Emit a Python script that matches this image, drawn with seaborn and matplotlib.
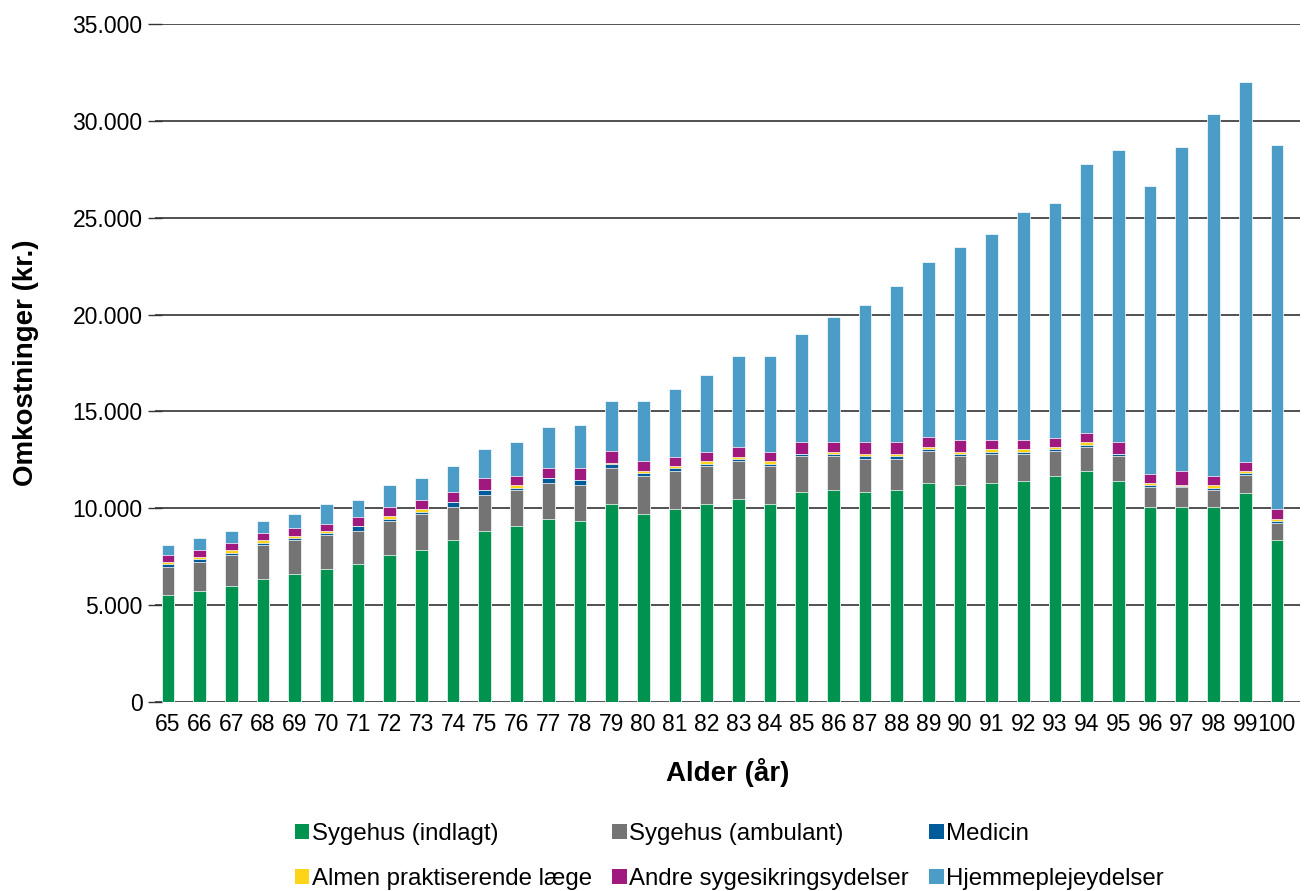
import matplotlib
matplotlib.use("Agg")
import matplotlib.pyplot as plt
from matplotlib.ticker import FuncFormatter, MultipleLocator
from matplotlib.patches import Patch
import numpy as np
import pandas as pd
import seaborn as sns

# Ages 65..100
ages = [str(a) for a in range(65, 101)]

sygehus_indlagt = [5500, 5750, 5970, 6370, 6610, 6850, 7110, 7600, 7830, 8350,
                   8840, 9090, 9460, 9330, 10200, 9710, 9950, 10200, 10460, 10200,
                   10830, 10940, 10830, 10940, 11320, 11190, 11320, 11420, 11680, 11940,
                   11420, 10070, 10070, 10070, 10800, 8340]
sygehus_ambulant = [1480, 1490, 1630, 1730, 1740, 1760, 1730, 1740, 1880, 1730,
                    1860, 1850, 1860, 1870, 1860, 1970, 1990, 1980, 1980, 1980,
                    1850, 1740, 1730, 1620, 1620, 1490, 1480, 1370, 1260, 1240,
                    1260, 1050, 1010, 880, 920, 900]
medicin = [140, 130, 110, 120, 120, 100, 240, 120, 110, 230,
           240, 120, 240, 250, 240, 120, 120, 120, 100, 120,
           120, 120, 120, 120, 120, 120, 120, 130, 110, 80,
           110, 90, 60, 110, 90, 90]
almen_laege = [120, 120, 140, 130, 120, 130, 20, 130, 130, 20,
               20, 130, 20, 20, 20, 140, 120, 130, 120, 140,
               20, 120, 120, 120, 120, 120, 140, 130, 100, 150,
               20, 110, 70, 130, 100, 100]
andre_ydelser = [360, 360, 370, 360, 380, 360, 450, 490, 490, 500,
                 620, 490, 500, 610, 620, 480, 480, 490, 500, 480,
                 600, 500, 620, 620, 490, 620, 480, 470, 480, 470,
                 590, 470, 730, 490, 500, 520]
hjemmepleje = [490, 620, 610, 620, 740, 1000, 890, 1110, 1120, 1370,
               1500, 1740, 2100, 2220, 2600, 3100, 3480, 3980, 4720, 4960,
               5580, 6440, 7060, 8060, 9050, 9950, 10620, 11760, 12140, 13910,
               15100, 14860, 16720, 18690, 19590, 18820]

series_names = ["Sygehus (indlagt)", "Sygehus (ambulant)", "Medicin",
                "Almen praktiserende læge", "Andre sygesikringsydelser",
                "Hjemmeplejeydelser"]
series_values = [sygehus_indlagt, sygehus_ambulant, medicin,
                 almen_laege, andre_ydelser, hjemmepleje]
series_colors = ["#00924F", "#747474", "#005B9A", "#FFD318", "#A0197F", "#4B9CC6"]

df = pd.DataFrame({name: vals for name, vals in zip(series_names, series_values)})
df.insert(0, "Alder", ages)
cum = df[series_names].cumsum(axis=1)

sns.set_theme(style="white")
plt.rcParams["font.family"] = ["Liberation Sans", "DejaVu Sans"]
plt.rcParams["text.color"] = "black"
plt.rcParams["axes.labelcolor"] = "black"

fig = plt.figure(figsize=(13.12, 8.91), dpi=100)
ax = fig.add_axes([155 / 1312, 1 - 702 / 891, (1300 - 155) / 1312, (702 - 24) / 891])

# Stacked bars: draw cumulative totals from the top segment down
for name, color in reversed(list(zip(series_names, series_colors))):
    sns.barplot(x=df["Alder"], y=cum[name], color=color, width=0.4,
                edgecolor="white", linewidth=0.5, saturation=1, ax=ax, zorder=3)

ax.set_ylim(0, 35000)
ax.set_xlim(-0.41, 35.73)
ax.yaxis.set_major_locator(MultipleLocator(5000))
ax.yaxis.set_major_formatter(FuncFormatter(lambda v, p: f"{int(v):,}".replace(",", ".")))
ax.grid(axis="y", color="#222222", linewidth=1.1, zorder=0)
ax.grid(axis="x", visible=False)
ax.set_axisbelow(True)
for s in ax.spines.values():
    s.set_visible(False)

ax.tick_params(axis="y", which="major", left=True, direction="inout", length=10,
               width=1, color="#333333", labelsize=16.5, pad=4, labelcolor="black")
ax.tick_params(axis="x", bottom=False, labelsize=16.5, pad=2, labelcolor="black")

ax.set_xlabel("Alder (år)", fontsize=20, fontweight="bold", labelpad=16)
ax.set_ylabel("Omkostninger (kr.)", fontsize=20, fontweight="bold", labelpad=24)

# Legend filled row by row (3 columns x 2 rows)
order = [0, 3, 1, 4, 2, 5]
handles = [Patch(facecolor=series_colors[i], edgecolor="none") for i in order]
labels = [series_names[i] for i in order]
fig.legend(handles, labels, ncol=3, loc="upper left",
           bbox_to_anchor=(295 / 1312, 1 - 823 / 891), frameon=False,
           fontsize=17.3, handlelength=0.6, handleheight=0.6, handletextpad=0.1,
           columnspacing=0.85, labelspacing=0.95, borderpad=0, borderaxespad=0)

fig.savefig("out.png", dpi=100)
